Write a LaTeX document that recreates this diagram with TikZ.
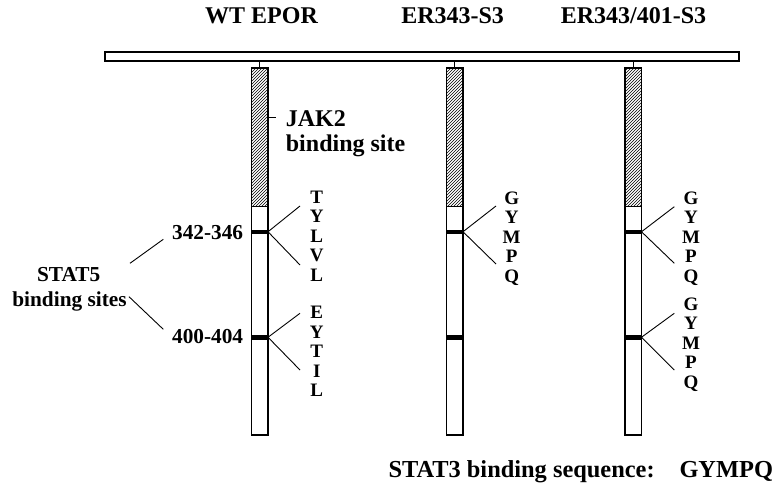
\documentclass[tikz,border=0pt]{standalone}
\usepackage{fontspec}
\setmainfont{Liberation Serif}
\usetikzlibrary{patterns}
\begin{document}
\begin{tikzpicture}[x=1pt,y=-1pt,
  hdr/.style={font=\fontsize{24}{28}\selectfont\bfseries, anchor=base, inner sep=0},
  lab/.style={font=\fontsize{21.3}{25}\selectfont\bfseries, inner sep=0},
  aa/.style={font=\fontsize{19}{20}\selectfont\bfseries, anchor=base, inner sep=0},
  link/.style={line width=0.9pt},
  box/.style={draw, line width=1.2pt},
  band/.style={fill=black}]
\useasboundingbox (0,0) rectangle (773,489);

% headers
\node[hdr] (h1) at (261.5,23.3) {WT EPOR};
\node[hdr] (h2) at (452.6,23.3) {ER343-S3};
\node[hdr] (h3) at (633.5,23.3) {ER343/401-S3};

% membrane bar
\draw[box, fill=white] (105,52) rectangle (739,61);

% receptor columns
\foreach \c/\xl in {1/251.5,2/446.5,3/625}{
  \draw[line width=0.9pt] ({\xl+8.25},61) -- ({\xl+8.25},68);
  \draw[box, pattern=north east lines] (\xl,68) rectangle ({\xl+16.5},206.7);
  \draw[box, fill=white] (\xl,206.7) rectangle ({\xl+16.5},435);
  \fill[band] (\xl,229.5) rectangle ({\xl+16.5},234);
  \fill[band] (\xl,335) rectangle ({\xl+16.5},339.5);
  \coordinate (s\c a) at ({\xl+16.5},231.75);
  \coordinate (s\c b) at ({\xl+16.5},337.25);
}

% JAK2 label
\coordinate (jt0) at (268,117);
\coordinate (jt1) at (275.7,117);
\draw[link] (jt0) -- (jt1);
\node[hdr, anchor=base west] (jak) at (285.7,127) {JAK2};
\node[hdr, anchor=base west] (jak2) at (285.7,151.7) {binding site};

% connectors from bands
\coordinate (e1au) at (300,206);   \coordinate (e1ad) at (300,265);
\coordinate (e1bu) at (300,313.3); \coordinate (e1bd) at (300,370);
\coordinate (e2au) at (496,206);   \coordinate (e2ad) at (496,264);
\coordinate (e3au) at (674.3,206.7); \coordinate (e3ad) at (674.3,263.3);
\coordinate (e3bu) at (674.3,313.3); \coordinate (e3bd) at (674.3,370);
\draw[link] (e1au) -- (s1a) -- (e1ad);
\draw[link] (e1bu) -- (s1b) -- (e1bd);
\draw[link] (e2au) -- (s2a) -- (e2ad);
\draw[link] (e3au) -- (s3a) -- (e3ad);
\draw[link] (e3bu) -- (s3b) -- (e3bd);

% residue letters
\foreach \L [count=\i] in {T,Y,L,V,L}
  \node[aa] (wa\i) at (316.7,{203.3+19.5*(\i-1)}) {\L};
\foreach \L [count=\i] in {E,Y,T,I,L}
  \node[aa] (wb\i) at (316.7,{318.4+19.6*(\i-1)}) {\L};
\foreach \L [count=\i] in {G,Y,M,P,Q}
  \node[aa] (ma\i) at (511.7,{204.3+19.5*(\i-1)}) {\L};
\foreach \L [count=\i] in {G,Y,M,P,Q}
  \node[aa] (da\i) at (691,{204.3+19.5*(\i-1)}) {\L};
\foreach \L [count=\i] in {G,Y,M,P,Q}
  \node[aa] (db\i) at (691,{310+19.6*(\i-1)}) {\L};

% position labels
\node[lab, anchor=east] (p1) at (243.3,232.7) {342-346};
\node[lab, anchor=east] (p2) at (243.3,336.7) {400-404};
\node[lab, anchor=base] (st5) at (68.7,281.7) {STAT5};
\node[lab, anchor=base] (st5b) at (69.5,306.7) {binding sites};
\coordinate (l1a) at (130,263.3); \coordinate (l1b) at (163.3,239.3);
\coordinate (l2a) at (129,296.7); \coordinate (l2b) at (163.3,329.3);
\draw[link] (l1a) -- (l1b);
\draw[link] (l2a) -- (l2b);

% bottom legend
\node[hdr, anchor=base west, font=\fontsize{24.4}{28}\selectfont\bfseries] (leg) at (388.3,477.3) {STAT3 binding sequence:};
\node[hdr, anchor=base west, font=\fontsize{24.4}{28}\selectfont\bfseries] (seq) at (679.3,477.3) {GYMPQ};
\end{tikzpicture}
\end{document}
